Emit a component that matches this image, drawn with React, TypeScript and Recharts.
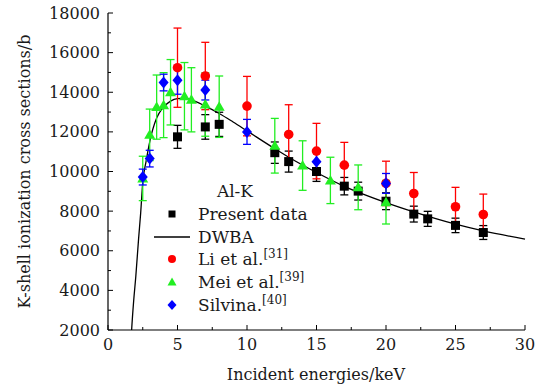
import {
  ComposedChart, Line, Scatter, ErrorBar, XAxis, YAxis,
} from 'recharts'

// Al K-shell ionization cross sections (b) vs incident energy (keV)
const presentX = [5, 7, 8, 12, 13, 15, 17, 18, 20, 22, 23, 25, 27]
const presentY = [11750, 12250, 12380, 10950, 10500, 10000, 9260, 9010, 8500, 7850, 7610, 7280, 6920]
const presentErr = [580, 620, 610, 540, 530, 500, 440, 450, 425, 400, 380, 365, 350]

const liX = [5, 7, 10, 13, 15, 17, 20, 22, 25, 27]
const liY = [15240, 14820, 13300, 11870, 11030, 10320, 9400, 8890, 8220, 7830]
const liErr = [2000, 1700, 1500, 1500, 1400, 1150, 1120, 1060, 980, 1030]

const meiX = [2.5, 3, 3.5, 4, 4.5, 5.5, 6, 7, 8, 12, 14, 16, 18, 20]
const meiY = [9650, 11850, 13250, 13350, 14000, 13800, 13620, 13380, 13270, 11300, 10300, 9550, 9200, 8450]
const meiErr = [1120, 1300, 1620, 1640, 1650, 1700, 1620, 1600, 1550, 1380, 1250, 1170, 1130, 1100]

const silvinaX = [2.5, 3, 4, 5, 7, 10, 15, 20]
const silvinaY = [9720, 10650, 14490, 14600, 14110, 12000, 10490, 9400]
const silvinaErr = [400, 420, 420, 700, 500, 630, 590, 500]

const dwbaX = [1.56, 1.6, 1.7, 1.85, 2, 2.2, 2.35, 2.5, 2.75, 3, 3.5, 4, 4.5, 5, 5.5, 6, 7, 8, 9, 10, 12, 13, 15, 17, 20, 22, 25, 27, 30]
const dwbaY = [0, 700, 2000, 3500, 4700, 6600, 7900, 9450, 10550, 11500, 12700, 13250, 13550, 13680, 13700, 13620, 13300, 12930, 12500, 12050, 11150, 10720, 9950, 9250, 8430, 7960, 7340, 7000, 6590]

const xTicks = [0, 2.5, 5, 7.5, 10, 12.5, 15, 17.5, 20, 22.5, 25, 27.5, 30]
const yTicks = [2000, 3000, 4000, 5000, 6000, 7000, 8000, 9000, 10000, 11000, 12000, 13000, 14000, 15000, 16000, 17000, 18000]

const FONT = '"DejaVu Serif", serif'
const INK = '#1a1a1a'
const RED = '#ff0000'
const GREEN = '#22ee22'
const BLUE = '#0000ff'

const pts = (xs: number[], ys: number[], es: number[]) =>
  xs.map((x, i) => ({ x, y: ys[i], err: es[i] }))

const presentData = pts(presentX, presentY, presentErr)
const liData = pts(liX, liY, liErr)
const meiData = pts(meiX, meiY, meiErr)
const silvinaData = pts(silvinaX, silvinaY, silvinaErr)
const dwbaData = dwbaX.map((x, i) => ({ x, y: dwbaY[i] }))

const XTick = (props: any) => {
  const { x, y, payload } = props
  const major = payload.value % 5 === 0
  return (
    <g>
      <line x1={x} x2={x} y1={y} y2={y - (major ? 5 : 3)} stroke="#000" strokeWidth={1} />
      {major && (
        <text x={x} y={y + 20} textAnchor="middle" fontFamily={FONT} fontSize={16} fill={INK}>
          {payload.value}
        </text>
      )}
    </g>
  )
}

const YTick = (props: any) => {
  const { x, y, payload } = props
  const major = payload.value % 2000 === 0
  return (
    <g>
      <line x1={x} x2={x + (major ? 5 : 3)} y1={y} y2={y} stroke="#000" strokeWidth={1} />
      {major && (
        <text x={x - 8} y={y + 5.5} textAnchor="end" fontFamily={FONT} fontSize={16} fill={INK}>
          {payload.value}
        </text>
      )}
    </g>
  )
}

const squareShape = (p: any) => <rect x={p.cx - 4.5} y={p.cy - 4.5} width={9} height={9} fill="#000" />
const circleShape = (p: any) => <circle cx={p.cx} cy={p.cy} r={4.8} fill={RED} />
const triangleShape = (p: any) => (
  <path d={`M${p.cx},${p.cy - 5.5}L${p.cx - 5.5},${p.cy + 4}L${p.cx + 5.5},${p.cy + 4}Z`} fill={GREEN} />
)
const diamondShape = (p: any) => (
  <path d={`M${p.cx},${p.cy - 6}L${p.cx + 5},${p.cy}L${p.cx},${p.cy + 6}L${p.cx - 5},${p.cy}Z`} fill={BLUE} />
)

// legend and axis titles drawn on top of the chart
function Overlay() {
  const mx = 172
  const tx = 198
  const rows = [214, 237, 259, 282, 305]
  return (
    <svg width={544} height={387} style={{ position: 'absolute', left: 0, top: 0, pointerEvents: 'none' }}>
      <g fontFamily={FONT} fill={INK}>
        <text x={316} y={380} textAnchor="middle" fontSize={16}>Incident energies/keV</text>
        <text x={29.5} y={171.5} textAnchor="middle" fontSize={16} transform="rotate(-90 29.5 171.5)">
          K-shell ionization cross sections/b
        </text>
      </g>
      <g fontFamily={FONT} fontSize={17} fill={INK}>
        <text x={235} y={197} textAnchor="middle">Al-K</text>
        <rect x={mx - 3.5} y={rows[0] - 3.5} width={7} height={7} fill="#000" />
        <text x={tx} y={rows[0] + 5.5}>Present data</text>
        <line x1={154} x2={190} y1={rows[1]} y2={rows[1]} stroke="#000" strokeWidth={1.3} />
        <text x={tx} y={rows[1] + 5.5}>DWBA</text>
        <circle cx={mx} cy={rows[2]} r={4} fill={RED} />
        <text x={tx} y={rows[2] + 5.5}>Li et al.<tspan dy={-7} fontSize={12}>[31]</tspan></text>
        <path d={`M${mx},${rows[3] - 4.5}L${mx - 4.5},${rows[3] + 3.5}L${mx + 4.5},${rows[3] + 3.5}Z`} fill={GREEN} />
        <text x={tx} y={rows[3] + 5.5}>Mei et al.<tspan dy={-7} fontSize={12}>[39]</tspan></text>
        <path d={`M${mx},${rows[4] - 5}L${mx + 4.5},${rows[4]}L${mx},${rows[4] + 5}L${mx - 4.5},${rows[4]}Z`} fill={BLUE} />
        <text x={tx} y={rows[4] + 5.5}>Silvina.<tspan dy={-7} fontSize={12}>[40]</tspan></text>
      </g>
    </svg>
  )
}

export default function App() {
  return (
    <div style={{ position: 'absolute', left: 0, top: 0, width: 544, height: 387, background: '#fff' }}>
      <ComposedChart width={544} height={387} margin={{ top: 13, right: 19, bottom: 0, left: 0 }}>
        <XAxis
          dataKey="x"
          type="number"
          domain={[0, 30]}
          ticks={xTicks}
          interval={0}
          tick={<XTick />}
          tickLine={false}
          tickSize={0}
          tickMargin={0}
          height={57}
          axisLine={{ stroke: '#000', strokeWidth: 1.2 }}
        />
        <XAxis xAxisId="top" dataKey="x" type="number" domain={[0, 30]} orientation="top" height={0} tick={false} tickLine={false} axisLine={{ stroke: '#000', strokeWidth: 1.2 }} />
        <YAxis
          type="number"
          domain={[2000, 18000]}
          allowDataOverflow
          ticks={yTicks}
          interval={0}
          tick={<YTick />}
          tickLine={false}
          tickSize={0}
          tickMargin={0}
          width={108}
          axisLine={{ stroke: '#000', strokeWidth: 1.2 }}
        />
        <YAxis yAxisId="right" type="number" domain={[2000, 18000]} orientation="right" width={0} tick={false} tickLine={false} axisLine={{ stroke: '#000', strokeWidth: 1.2 }} />

        <Scatter data={presentData} dataKey="y" shape={squareShape} isAnimationActive={false}>
          <ErrorBar dataKey="err" direction="y" width={4} stroke="#000" strokeWidth={1.3} />
        </Scatter>
        <Line data={dwbaData} dataKey="y" type="monotone" dot={false} stroke="#000" strokeWidth={1.3} isAnimationActive={false} />
        <Scatter data={liData} dataKey="y" shape={circleShape} isAnimationActive={false}>
          <ErrorBar dataKey="err" direction="y" width={4} stroke={RED} strokeWidth={1.3} />
        </Scatter>
        <Scatter data={meiData} dataKey="y" shape={triangleShape} isAnimationActive={false}>
          <ErrorBar dataKey="err" direction="y" width={4} stroke={GREEN} strokeWidth={1.3} />
        </Scatter>
        <Scatter data={silvinaData} dataKey="y" shape={diamondShape} isAnimationActive={false}>
          <ErrorBar dataKey="err" direction="y" width={4} stroke={BLUE} strokeWidth={1.3} />
        </Scatter>
      </ComposedChart>
      <Overlay />
    </div>
  )
}
